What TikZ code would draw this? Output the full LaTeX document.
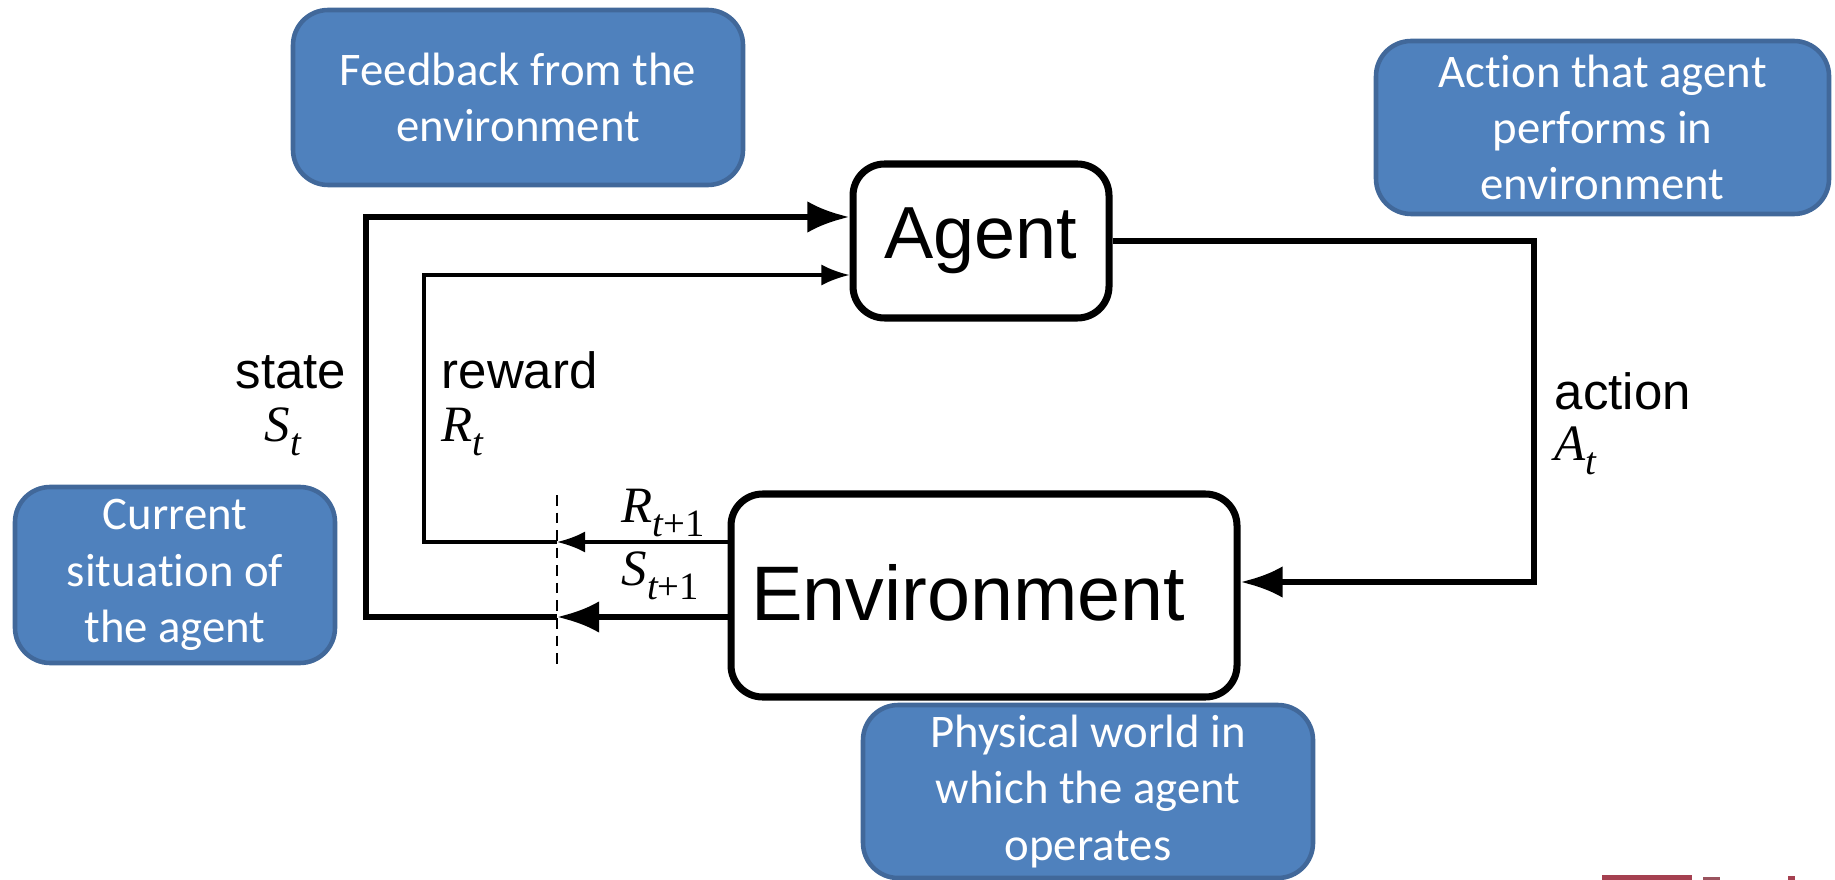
\documentclass[tikz,border=0pt]{standalone}
\usepackage{fontspec}
\setmainfont{Liberation Sans}
\newfontfamily\calib[Ligatures=NoCommon]{Carlito}
\newfontfamily\tnr{Liberation Serif}
\usetikzlibrary{arrows.meta}
\definecolor{boxblue}{HTML}{4F81BD}
\definecolor{boxedge}{HTML}{41689A}
\definecolor{logored}{HTML}{A54050}
\newcommand{\mysub}[1]{\raisebox{-0.6ex}{\fontsize{11}{11}\selectfont #1}}
\begin{document}
\begin{tikzpicture}[x=0.1mm,y=-0.1mm,
  bluebox/.style={draw=boxedge, fill=boxblue, line width=1.3pt, rounded corners=10pt, text=white, align=center, font=\calib\fontsize{13.3}{16}\selectfont, inner sep=0pt},
  blk/.style={draw=black, line width=2pt, rounded corners=9pt, fill=white, inner sep=0pt},
  thk/.style={line width=1.8pt},
  thn/.style={line width=0.9pt},
  bigtip/.style={-{Latex[length=12pt,width=9pt]}},
  smalltip/.style={-{Latex[length=8pt,width=6pt]}},
  lab/.style={font=\fontsize{14.5}{17}\selectfont, inner sep=0pt, anchor=base west},
  mathlab/.style={font=\tnr\itshape\fontsize{14.5}{17}\selectfont, inner sep=0pt, anchor=base west}]

\useasboundingbox (0,0) rectangle (1835,880);

% blue annotation boxes
\node[bluebox, minimum width=45mm, minimum height=17.5mm] (fb) at (518,97.5) {Feedback from the\\environment};
\node[bluebox, minimum width=45.3mm, minimum height=17.3mm] (act) at (1602.5,127.5) {Action that agent\\performs in\\environment};
\node[bluebox, minimum width=32mm, minimum height=17.6mm] (cur) at (175,575) {Current\\situation of\\the agent};
\node[bluebox, minimum width=45mm, minimum height=17.3mm] (phy) at (1088,791.5) {Physical world in\\which the agent\\operates};

% main boxes
\node[blk, minimum width=25.6mm, minimum height=15.4mm, font=\fontsize{21}{25}\selectfont] (agent) at (981,241) {Agent};
\node[blk, minimum width=50.6mm, minimum height=20.3mm, font=\fontsize{22}{26}\selectfont] (env) at (984,595.5) {\raisebox{2pt}{Environment}\kern 9pt};

% dashed separator
\coordinate (dTop) at (557,495);
\coordinate (dBot) at (557,668);
\coordinate (dS) at (557,617);
\coordinate (dR) at (557,542);
\draw[line width=0.8pt, dash pattern=on 3pt off 2pt] (dTop) -- (dBot);

% state loop
\draw[thk, bigtip] (env.west |- dS) -- (dS);
\draw[thk, bigtip] (dS) -- (366,617) -- (366,217) -- (agent.west |- 0,217);
% reward loop
\draw[thn, smalltip] (env.west |- dR) -- (dR);
\draw[thn, smalltip] (dR) -- (424,542) -- (424,275) -- (agent.west |- 0,275);
% action
\draw[thk, bigtip] (agent.east) -- (1534,241) -- (1534,582) -- (env.east |- 0,582);

% labels
\node[lab, anchor=base] (st) at (291,389) {state};
\node[mathlab, anchor=base] (St) at (283,441) {S\mysub{t}};
\node[lab] (rw) at (441,389) {reward};
\node[mathlab] (Rt) at (441,441) {R\mysub{t}};
\node[lab] (ac) at (1554,410) {action};
\node[mathlab] (At) at (1554,460) {A\mysub{t}};
\node[mathlab] (Rt1) at (621,522) {R\mysub{t{\upshape+1}}};
\node[mathlab] (St1) at (621,585) {S\mysub{t{\upshape+1}}};

% cut-off logo fragments
\fill[logored] (1602,875) rectangle (1692,880);
\fill[logored!70!gray] (1703,877) rectangle (1720,880);
\fill[logored] (1788,876) rectangle (1795,880);
\end{tikzpicture}
\end{document}
